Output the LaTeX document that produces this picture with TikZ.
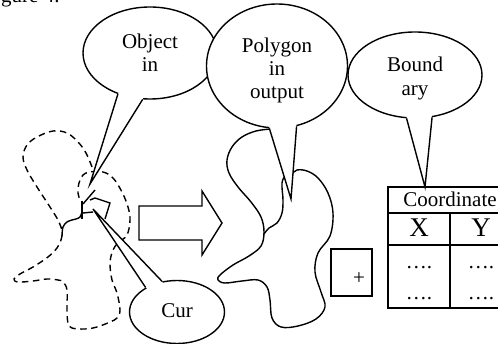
\documentclass[tikz,border=0pt]{standalone}
\usepackage{fontspec}
\setmainfont{Liberation Serif}
\usetikzlibrary{shapes.geometric,calc}
\begin{document}
\begin{tikzpicture}[x=1pt,y=-1pt,
  bubble/.style={ellipse,draw,fill=white,line width=1.4pt,inner sep=0pt},
  lbl/.style={font=\fontsize{21}{23}\selectfont,anchor=base,inner sep=0pt},
  big/.style={font=\fontsize{27}{29}\selectfont,anchor=base,inner sep=0pt},
  tailline/.style={line width=1.4pt,line join=miter},
  blob/.style={line width=1.4pt},
  dashblob/.style={line width=1.4pt,dash pattern=on 6.5pt off 4.5pt},
  gridline/.style={line width=1.7pt}]
\useasboundingbox (0,0) rectangle (498,344);
\clip (0,0) rectangle (498,344);

% cropped caption
\node[lbl,anchor=base west] (cap) at (1,3) {gure 4.};

% dashed input object
\draw[dashblob] plot[smooth,tension=0.6] coordinates {
 (92,167) (86,153) (78,142) (67,133) (53,131) (37,137) (27,145) (23,157) (27,170)
 (37,187) (50,207) (58,220) (62,230)};
\draw[dashblob] plot[smooth,tension=0.6] coordinates {
 (62,235) (61,240) (57,248) (48,257) (33,267) (20,274) (14,279) (18,282) (33,281)
 (47,279) (58,280) (63,282) (67,290) (67,310) (68,323) (72,328) (85,329) (97,327)
 (110,322) (117,318) (120,310) (117,293) (112,280) (110,263) (113,250) (118,243)
 (127,235) (130,220) (128,207) (122,192) (113,178) (103,172) (90,172) (83,175)
 (79,183) (78,193) (80,200)};
\draw[blob] plot[smooth,tension=0.6] coordinates {
 (62,236) (63,227) (67,222) (72,220) (76,219) (80,217) (82,212)};
\draw[blob] (82,201) -- (82,219);
\draw[blob] (83,204) -- (95,190);
\draw[blob] (90,200) -- (95,198) -- (110,203) -- (105,219);
\draw[blob] (83,213) -- (93,212);

% Object in bubble
\node[bubble,minimum width=134pt,minimum height=92pt] (obj) at (150,53) {};
\coordinate (objtip) at (90,184);
\fill[white] (obj.232) -- (objtip) -- (obj.261) -- ($(obj.261)!0.1!(obj.center)$) -- ($(obj.232)!0.1!(obj.center)$) -- cycle;
\draw[tailline] (obj.232) -- (objtip) -- (obj.261);

% output polygon
\draw[blob] plot[smooth,tension=0.6] coordinates {
 (271,129) (256,131) (242,137) (232,147) (227,160) (229,173) (238,187) (251,202)
 (261,217) (264,232) (261,246) (249,256) (233,265) (220,275) (218,280) (225,283)
 (242,281) (258,280) (267,287) (270,300) (272,318) (281,327) (298,326) (316,319)
 (325,307) (321,292) (315,272) (318,253) (330,236) (333,213) (328,193) (318,178)
 (307,171) (297,170) (292,174)};
\draw[blob] plot[smooth,tension=0.6] coordinates {
 (293,170) (286,175) (282,183) (283,200) (282,213) (277,223) (269,228) (264,234)};

% Polygon in output bubble
\node[bubble,minimum width=141pt,minimum height=124pt] (poly) at (277,66) {};
\coordinate (polytip) at (291,199);
\fill[white] (poly.263.6) -- (polytip) -- (poly.288.4) -- ($(poly.288.4)!0.1!(poly.center)$) -- ($(poly.263.6)!0.1!(poly.center)$) -- cycle;
\draw[tailline] (poly.263.6) -- (polytip) -- (poly.288.4);

% Boundary bubble
\node[bubble,minimum width=134pt,minimum height=86pt] (bnd) at (415,75) {};

% table
\draw[gridline] (388,187) rectangle (512,308);
\draw[gridline] (388,213) -- (512,213);
\draw[gridline] (388,245) -- (512,245);
\draw[gridline] (450,213) -- (450,308);
\coordinate (bndtip) at (425,187);
\fill[white] (bnd.259.5) -- (bndtip) -- (bnd.292) -- ($(bnd.292)!0.1!(bnd.center)$) -- ($(bnd.259.5)!0.1!(bnd.center)$) -- cycle;
\draw[tailline] (bnd.259.5) -- (bndtip) -- (bnd.292);

% block arrow
\draw[line width=1.4pt,line join=miter] (139,206) -- (202,206) -- (202,191) -- (222,223)
  -- (202,255) -- (202,240) -- (139,240) -- cycle;

% plus box
\draw[line width=1.4pt] (331,249) rectangle (372,296);

% Cur bubble
\node[bubble,minimum width=95pt,minimum height=63pt] (cur) at (177,312) {};
\coordinate (curtip) at (93,209);
\fill[white] (cur.142.5) -- (curtip) -- (cur.116) -- ($(cur.116)!0.1!(cur.center)$) -- ($(cur.142.5)!0.1!(cur.center)$) -- cycle;
\draw[tailline] (cur.142.5) -- (curtip) -- (cur.116);

% labels
\node[lbl] (objA) at (150,49) {Object};
\node[lbl] (objB) at (150,72) {in};
\node[lbl] (polyA) at (277,53) {Polygon};
\node[lbl] (polyB) at (277,76) {in};
\node[lbl] (polyC) at (277,99) {output};
\node[lbl] (bndA) at (415,72) {Bound};
\node[lbl] (bndB) at (415,96) {ary};
\node[lbl] (curA) at (177,318) {Cur};
\node[lbl] (plus) at (359,285) {+};
\node[lbl] (coord) at (450,207) {Coordinate};
\node[big] (colX) at (419,237) {X};
\node[big] (colY) at (481,237) {Y};
\node[lbl] (d1) at (419,269) {….};
\node[lbl] (d2) at (419,300) {….};
\node[lbl] (d3) at (481,269) {….};
\node[lbl] (d4) at (481,300) {….};
\end{tikzpicture}
\end{document}
